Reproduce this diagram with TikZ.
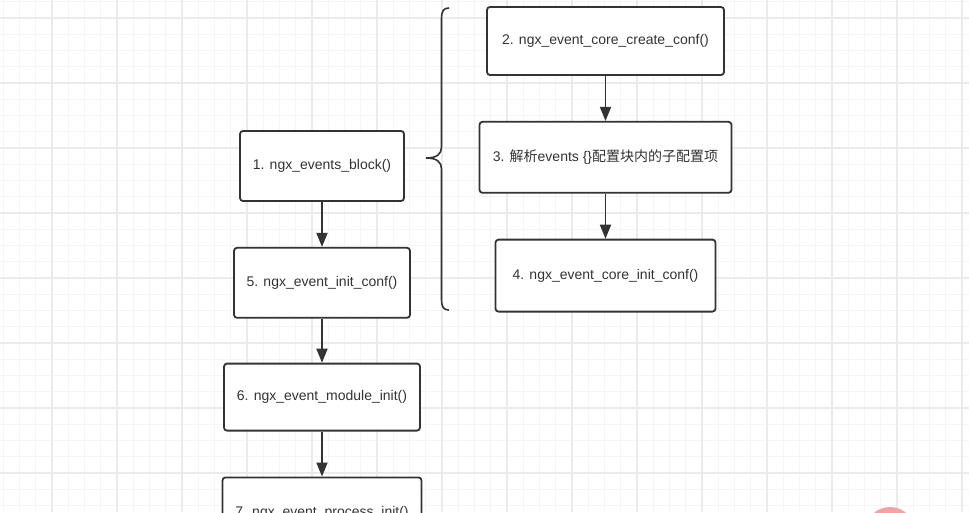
\documentclass[tikz,border=0pt]{standalone}
\usepackage{fontspec}
\setmainfont{Liberation Sans}
\newfontfamily\cjk{Noto Sans CJK SC}
\usepackage{xcolor}
\usepackage{tikz}
\usetikzlibrary{positioning,arrows.meta}
\definecolor{linedark}{RGB}{51,51,51}
\definecolor{gridminor}{RGB}{245,245,245}
\definecolor{gridmajor}{RGB}{235,235,235}
\definecolor{dotpink}{RGB}{245,162,162}
\tikzset{
  box/.style={rounded corners=3pt, draw=linedark, line width=1.8pt, fill=white, align=center, text=linedark, minimum height=70pt, inner sep=0pt, font=\fontsize{14pt}{16pt}\selectfont},
  arr/.style={-{Triangle[length=14pt, width=11pt]}, line width=1.8pt, draw=linedark},
}

\begin{document}
\begin{tikzpicture}[x=1pt, y=-1pt]
    \useasboundingbox (0,0) rectangle (969,512);
    \clip (0,0) rectangle (969,512);
    \fill[white] (0,0) rectangle (969,512);
    % grid
    \foreach \k in {0,...,59}
      \draw[gridminor, line width=1pt] ({3.25+16.25*\k},0) -- ({3.25+16.25*\k},512);
    \foreach \k in {0,...,31}
      \draw[gridminor, line width=1pt] (0,{1.75+16.25*\k}) -- (969,{1.75+16.25*\k});
    \foreach \k in {0,...,14}
      \draw[gridmajor, line width=1.2pt] ({52+65*\k},0) -- ({52+65*\k},512);
    \foreach \k in {0,...,7}
      \draw[gridmajor, line width=1.2pt] (0,{18+65*\k}) -- (969,{18+65*\k});

    % left column
    \node[box, minimum width=164pt] (blk) at (322,166) {1. ngx\_events\_block()};
    \node[box, minimum width=176pt, below=45pt of blk] (initc) {5. ngx\_event\_init\_conf()};
    \node[box, minimum width=196pt, minimum height=67pt, below=44pt of initc] (modi) {6. ngx\_event\_module\_init()};
    \node[box, minimum width=199pt, below=45pt of modi] (proci) {7. ngx\_event\_process\_init()};

    % right column
    \node[box, minimum width=237pt, minimum height=68pt] (crc) at (605.5,41) {2. ngx\_event\_core\_create\_conf()};
    \node[box, minimum width=252pt, minimum height=71pt, below=45pt of crc] (pars) {3. {\cjk 解析}events \{\}{\cjk 配置块内的子配置项}};
    \node[box, minimum width=220pt, minimum height=72pt, below=45pt of pars] (cic) {4. ngx\_event\_core\_init\_conf()};

    \draw[arr] (blk) -- (initc);
    \draw[arr] (initc) -- (modi);
    \draw[arr] (modi) -- (proci);
    \draw[arr] (crc) -- (pars);
    \draw[arr] (pars) -- (cic);

    % brace
    \draw[linedark, line width=1.6pt]
      (449,8) .. controls (443.5,8) and (441.5,11) .. (441.5,19) -- (441.5,147)
      .. controls (441.5,154) and (437,158) .. (426,158)
      .. controls (437,158) and (441.5,162) .. (441.5,169) -- (441.5,299)
      .. controls (441.5,307) and (443.5,310) .. (449,310);

    \fill[dotpink] (890,532) circle (25);
  \end{tikzpicture}
\end{document}
